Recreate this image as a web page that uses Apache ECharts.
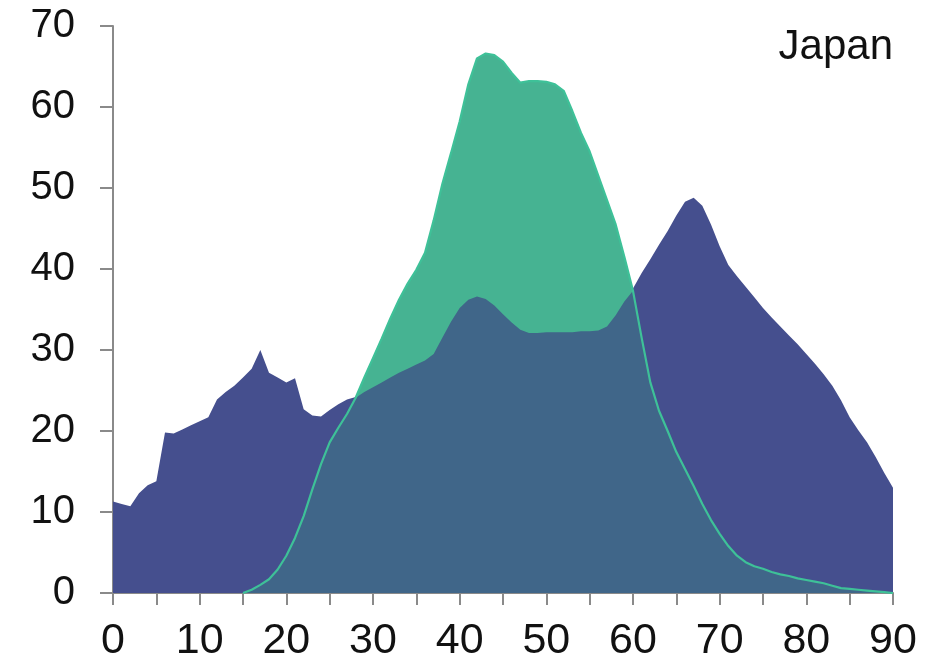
<!DOCTYPE html>
<html>
<head>
<meta charset="utf-8">
<script src="https://cdn.jsdelivr.net/npm/echarts@6/dist/echarts.min.js"></script>
<style>html,body{margin:0;padding:0;background:#fff;}#c{width:943px;height:663px;}</style>
</head>
<body>
<div id="c"></div>
<script>
// x positions (0..90)
const xValues = [];
for (let i = 0; i <= 90; i++) xValues.push(i);

// Dark blue series
const blueValues = [
 11.3, 11.0, 10.7, 12.3, 13.3, 13.8, 19.8, 19.7, 20.2, 20.7,
 21.2, 21.7, 23.9, 24.8, 25.6, 26.6, 27.7, 30.0, 27.2, 26.6,
 26.0, 26.5, 22.7, 21.9, 21.8, 22.6, 23.3, 23.9, 24.2, 24.8,
 25.4, 26.0, 26.6, 27.2, 27.7, 28.2, 28.7, 29.5, 31.5, 33.5,
 35.2, 36.2, 36.6, 36.3, 35.5, 34.4, 33.4, 32.5, 32.1, 32.1,
 32.2, 32.2, 32.2, 32.2, 32.3, 32.3, 32.4, 32.9, 34.3, 36.0,
 37.6, 39.5, 41.2, 43.0, 44.7, 46.6, 48.3, 48.8, 47.8, 45.5,
 42.8, 40.5, 39.1, 37.8, 36.5, 35.2, 34.0, 32.9, 31.8, 30.7,
 29.5, 28.3, 27.0, 25.6, 23.8, 21.7, 20.1, 18.6, 16.8, 14.8,
 13.0
];

// Green series (null = not drawn)
const greenValues = [
 null, null, null, null, null, null, null, null, null, null,
 null, null, null, null, null, 0.0, 0.4, 1.0, 1.7, 2.9,
 4.6, 6.8, 9.5, 12.8, 15.9, 18.6, 20.4, 22.1, 24.1, 26.6,
 29.0, 31.4, 33.9, 36.2, 38.2, 39.9, 42.0, 46.0, 50.5, 54.3,
 58.2, 62.8, 66.0, 66.6, 66.4, 65.6, 64.2, 63.0, 63.2, 63.2,
 63.1, 62.8, 62.0, 59.5, 56.8, 54.5, 51.5, 48.5, 45.5, 41.5,
 37.3, 31.5, 26.0, 22.5, 20.0, 17.4, 15.3, 13.2, 11.0, 9.0,
 7.3, 5.8, 4.6, 3.8, 3.3, 3.0, 2.6, 2.3, 2.1, 1.8,
 1.6, 1.4, 1.2, 0.9, 0.6, 0.5, 0.4, 0.3, 0.2, 0.1,
 0.0
];

const yTicks = [0, 10, 20, 30, 40, 50, 60, 70];
const xTickLabels = [0, 10, 20, 30, 40, 50, 60, 70, 80, 90];
const panelLabel = 'Japan';

const bluePts = xValues.map((x, i) => [x, blueValues[i]]);
const greenPts = xValues.map((x, i) => [x, greenValues[i]]);
const overlapPts = xValues.map((x, i) =>
  greenValues[i] == null ? [x, null] : [x, Math.min(blueValues[i], greenValues[i])]);

const chart = echarts.init(document.getElementById('c'), null, {renderer: 'canvas'});
const axisCol = '#8a8a8a';
chart.setOption({
  animation: false,
  backgroundColor: '#ffffff',
  grid: {left: 113, right: 50, top: 26, bottom: 69, containLabel: false},
  title: {
    text: panelLabel, right: 45, top: 21,
    textStyle: {fontFamily: 'Liberation Sans, Arial, sans-serif', fontSize: 42, fontWeight: 'normal', color: '#111'}
  },
  xAxis: {
    type: 'value', min: 0, max: 90, interval: 5,
    splitLine: {show: false},
    axisLine: {show: true, lineStyle: {color: axisCol, width: 2}},
    axisTick: {show: true, length: 12, lineStyle: {color: axisCol, width: 2}},
    axisLabel: {
      margin: 27, color: '#111', fontSize: 43,
      fontFamily: 'Liberation Sans Narrow, Arial Narrow, Liberation Sans, sans-serif',
      formatter: v => xTickLabels.indexOf(v) >= 0 ? String(v) : ''
    }
  },
  yAxis: {
    type: 'value', min: 0, max: 70, interval: 10,
    splitLine: {show: false},
    axisLine: {show: true, lineStyle: {color: axisCol, width: 2}},
    axisTick: {show: true, length: 13, lineStyle: {color: axisCol, width: 2}},
    axisLabel: {
      margin: 38, color: '#111', fontSize: 40,
      fontFamily: 'Liberation Sans, Arial, sans-serif',
      formatter: v => yTicks.indexOf(v) >= 0 ? String(v) : ''
    }
  },
  series: [
    {
      type: 'line', data: bluePts, symbol: 'none', z: 1,
      lineStyle: {width: 0}, areaStyle: {color: '#454f8e', opacity: 1}
    },
    {
      type: 'line', data: greenPts, symbol: 'none', z: 2, connectNulls: false,
      lineStyle: {width: 0}, areaStyle: {color: '#46b392', opacity: 1}
    },
    {
      type: 'line', data: overlapPts, symbol: 'none', z: 3, connectNulls: false,
      lineStyle: {width: 0}, areaStyle: {color: '#406689', opacity: 1}
    },
    {
      type: 'line', data: greenPts, symbol: 'none', z: 4, connectNulls: false,
      lineStyle: {width: 2.2, color: '#3ec198'}
    }
  ]
});
</script>
</body>
</html>
